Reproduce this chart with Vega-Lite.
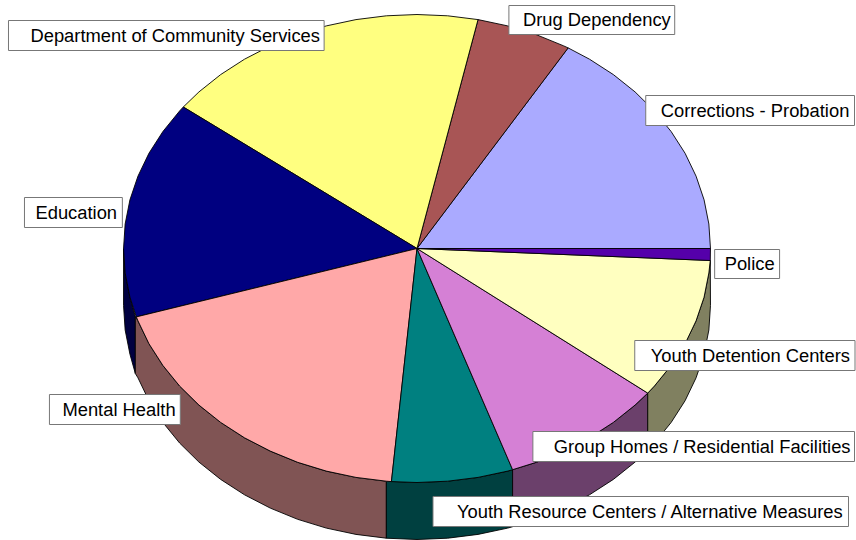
{
  "$schema": "https://vega.github.io/schema/vega-lite/v6.json",
  "width": 856,
  "height": 540,
  "padding": 0,
  "autosize": {"type": "fit", "contains": "padding"},
  "background": "#ffffff",
  "config": {"view": {"stroke": null}},
  "datasets": {
    "rim": [
      {"slice":"Education","x":-293.8,"y":0},{"slice":"Education","x":-292.2,"y":-24.5},{"slice":"Education","x":-287.4,"y":-48.7},{"slice":"Education","x":-282,"y":-68},{"slice":"Education","x":-282,"y":-125},{"slice":"Education","x":-287.4,"y":-105.7},{"slice":"Education","x":-292.2,"y":-81.5},{"slice":"Education","x":-293.8,"y":-57},
      {"slice":"Mental Health","x":-282,"y":-68},{"slice":"Mental Health","x":-279.4,"y":-72.3},{"slice":"Mental Health","x":-268.4,"y":-95.2},{"slice":"Mental Health","x":-254.4,"y":-117},{"slice":"Mental Health","x":-237.7,"y":-137.5},{"slice":"Mental Health","x":-218.3,"y":-156.6},{"slice":"Mental Health","x":-196.6,"y":-173.9},{"slice":"Mental Health","x":-172.7,"y":-189.3},{"slice":"Mental Health","x":-146.9,"y":-202.6},{"slice":"Mental Health","x":-119.5,"y":-213.8},{"slice":"Mental Health","x":-90.8,"y":-222.6},{"slice":"Mental Health","x":-61.1,"y":-228.9},{"slice":"Mental Health","x":-30.7,"y":-232.7},{"slice":"Mental Health","x":-30.7,"y":-289.7},{"slice":"Mental Health","x":-61.1,"y":-285.9},{"slice":"Mental Health","x":-90.8,"y":-279.6},{"slice":"Mental Health","x":-119.5,"y":-270.8},{"slice":"Mental Health","x":-146.9,"y":-259.6},{"slice":"Mental Health","x":-172.7,"y":-246.3},{"slice":"Mental Health","x":-196.6,"y":-230.9},{"slice":"Mental Health","x":-218.3,"y":-213.6},{"slice":"Mental Health","x":-237.7,"y":-194.5},{"slice":"Mental Health","x":-254.4,"y":-174},{"slice":"Mental Health","x":-268.4,"y":-152.2},{"slice":"Mental Health","x":-279.4,"y":-129.3},{"slice":"Mental Health","x":-282,"y":-125},
      {"slice":"Youth Resource Centers","x":-30.7,"y":-232.7},{"slice":"Youth Resource Centers","x":0,"y":-234},{"slice":"Youth Resource Centers","x":30.7,"y":-232.7},{"slice":"Youth Resource Centers","x":61.1,"y":-228.9},{"slice":"Youth Resource Centers","x":90.8,"y":-222.6},{"slice":"Youth Resource Centers","x":95.7,"y":-221.2},{"slice":"Youth Resource Centers","x":95.7,"y":-278.2},{"slice":"Youth Resource Centers","x":90.8,"y":-279.6},{"slice":"Youth Resource Centers","x":61.1,"y":-285.9},{"slice":"Youth Resource Centers","x":30.7,"y":-289.7},{"slice":"Youth Resource Centers","x":0,"y":-291},{"slice":"Youth Resource Centers","x":-30.7,"y":-289.7},
      {"slice":"Group Homes","x":95.7,"y":-221.2},{"slice":"Group Homes","x":119.5,"y":-213.8},{"slice":"Group Homes","x":146.9,"y":-202.6},{"slice":"Group Homes","x":172.7,"y":-189.3},{"slice":"Group Homes","x":196.6,"y":-173.9},{"slice":"Group Homes","x":218.3,"y":-156.6},{"slice":"Group Homes","x":231,"y":-144.6},{"slice":"Group Homes","x":231,"y":-201.6},{"slice":"Group Homes","x":218.3,"y":-213.6},{"slice":"Group Homes","x":196.6,"y":-230.9},{"slice":"Group Homes","x":172.7,"y":-246.3},{"slice":"Group Homes","x":146.9,"y":-259.6},{"slice":"Group Homes","x":119.5,"y":-270.8},{"slice":"Group Homes","x":95.7,"y":-278.2},
      {"slice":"Youth Detention Centers","x":231,"y":-144.6},{"slice":"Youth Detention Centers","x":237.7,"y":-137.5},{"slice":"Youth Detention Centers","x":254.4,"y":-117},{"slice":"Youth Detention Centers","x":268.4,"y":-95.2},{"slice":"Youth Detention Centers","x":279.4,"y":-72.3},{"slice":"Youth Detention Centers","x":287.4,"y":-48.7},{"slice":"Youth Detention Centers","x":292.2,"y":-24.5},{"slice":"Youth Detention Centers","x":293.6,"y":-12},{"slice":"Youth Detention Centers","x":293.8,"y":-57},{"slice":"Youth Detention Centers","x":292.2,"y":-81.5},{"slice":"Youth Detention Centers","x":287.4,"y":-105.7},{"slice":"Youth Detention Centers","x":279.4,"y":-129.3},{"slice":"Youth Detention Centers","x":268.4,"y":-152.2},{"slice":"Youth Detention Centers","x":254.4,"y":-174},{"slice":"Youth Detention Centers","x":237.7,"y":-194.5},{"slice":"Youth Detention Centers","x":231,"y":-201.6}
    ],
    "face": [
      {"slice":"Corrections - Probation","x":0,"y":0},{"slice":"Corrections - Probation","x":293.8,"y":0},{"slice":"Corrections - Probation","x":292.2,"y":24.5},{"slice":"Corrections - Probation","x":287.4,"y":48.7},{"slice":"Corrections - Probation","x":279.4,"y":72.3},{"slice":"Corrections - Probation","x":268.4,"y":95.2},{"slice":"Corrections - Probation","x":254.4,"y":117},{"slice":"Corrections - Probation","x":237.7,"y":137.5},{"slice":"Corrections - Probation","x":218.3,"y":156.6},{"slice":"Corrections - Probation","x":196.6,"y":173.9},{"slice":"Corrections - Probation","x":172.7,"y":189.3},{"slice":"Corrections - Probation","x":151.3,"y":200.6},
      {"slice":"Drug Dependency","x":0,"y":0},{"slice":"Drug Dependency","x":151.3,"y":200.6},{"slice":"Drug Dependency","x":146.9,"y":202.6},{"slice":"Drug Dependency","x":119.5,"y":213.8},{"slice":"Drug Dependency","x":90.8,"y":222.6},{"slice":"Drug Dependency","x":61.1,"y":228.9},
      {"slice":"Department of Community Services","x":0,"y":0},{"slice":"Department of Community Services","x":61.1,"y":228.9},{"slice":"Department of Community Services","x":30.7,"y":232.7},{"slice":"Department of Community Services","x":0,"y":234},{"slice":"Department of Community Services","x":-30.7,"y":232.7},{"slice":"Department of Community Services","x":-61.1,"y":228.9},{"slice":"Department of Community Services","x":-90.8,"y":222.6},{"slice":"Department of Community Services","x":-119.5,"y":213.8},{"slice":"Department of Community Services","x":-146.9,"y":202.6},{"slice":"Department of Community Services","x":-172.7,"y":189.3},{"slice":"Department of Community Services","x":-196.6,"y":173.9},{"slice":"Department of Community Services","x":-218.3,"y":156.6},{"slice":"Department of Community Services","x":-234,"y":141.5},
      {"slice":"Education","x":0,"y":0},{"slice":"Education","x":-234,"y":141.5},{"slice":"Education","x":-237.7,"y":137.5},{"slice":"Education","x":-254.4,"y":117},{"slice":"Education","x":-268.4,"y":95.2},{"slice":"Education","x":-279.4,"y":72.3},{"slice":"Education","x":-287.4,"y":48.7},{"slice":"Education","x":-292.2,"y":24.5},{"slice":"Education","x":-293.8,"y":0},{"slice":"Education","x":-292.2,"y":-24.5},{"slice":"Education","x":-287.4,"y":-48.7},{"slice":"Education","x":-281,"y":-68.4},
      {"slice":"Mental Health","x":0,"y":0},{"slice":"Mental Health","x":-281,"y":-68.4},{"slice":"Mental Health","x":-279.4,"y":-72.3},{"slice":"Mental Health","x":-268.4,"y":-95.2},{"slice":"Mental Health","x":-254.4,"y":-117},{"slice":"Mental Health","x":-237.7,"y":-137.5},{"slice":"Mental Health","x":-218.3,"y":-156.6},{"slice":"Mental Health","x":-196.6,"y":-173.9},{"slice":"Mental Health","x":-172.7,"y":-189.3},{"slice":"Mental Health","x":-146.9,"y":-202.6},{"slice":"Mental Health","x":-119.5,"y":-213.8},{"slice":"Mental Health","x":-90.8,"y":-222.6},{"slice":"Mental Health","x":-61.1,"y":-228.9},{"slice":"Mental Health","x":-30.7,"y":-232.7},{"slice":"Mental Health","x":-25.6,"y":-233.1},
      {"slice":"Youth Resource Centers / Alternative Measures","x":0,"y":0},{"slice":"Youth Resource Centers / Alternative Measures","x":-25.6,"y":-233.1},{"slice":"Youth Resource Centers / Alternative Measures","x":0,"y":-234},{"slice":"Youth Resource Centers / Alternative Measures","x":30.7,"y":-232.7},{"slice":"Youth Resource Centers / Alternative Measures","x":61.1,"y":-228.9},{"slice":"Youth Resource Centers / Alternative Measures","x":90.8,"y":-222.6},{"slice":"Youth Resource Centers / Alternative Measures","x":95.7,"y":-221.2},
      {"slice":"Group Homes / Residential Facilities","x":0,"y":0},{"slice":"Group Homes / Residential Facilities","x":95.7,"y":-221.2},{"slice":"Group Homes / Residential Facilities","x":119.5,"y":-213.8},{"slice":"Group Homes / Residential Facilities","x":146.9,"y":-202.6},{"slice":"Group Homes / Residential Facilities","x":172.7,"y":-189.3},{"slice":"Group Homes / Residential Facilities","x":196.6,"y":-173.9},{"slice":"Group Homes / Residential Facilities","x":218.3,"y":-156.6},{"slice":"Group Homes / Residential Facilities","x":231,"y":-144.6},
      {"slice":"Youth Detention Centers","x":0,"y":0},{"slice":"Youth Detention Centers","x":231,"y":-144.6},{"slice":"Youth Detention Centers","x":237.7,"y":-137.5},{"slice":"Youth Detention Centers","x":254.4,"y":-117},{"slice":"Youth Detention Centers","x":268.4,"y":-95.2},{"slice":"Youth Detention Centers","x":279.4,"y":-72.3},{"slice":"Youth Detention Centers","x":287.4,"y":-48.7},{"slice":"Youth Detention Centers","x":292.2,"y":-24.5},{"slice":"Youth Detention Centers","x":293.6,"y":-12},
      {"slice":"Police","x":0,"y":0},{"slice":"Police","x":293.6,"y":-12},{"slice":"Police","x":293.8,"y":0}
    ],
    "labels": [
      {"label":"Department of Community Services","left":-409,"right":-93,"top":228,"bottom":198,"tx":-387,"ty":213},
      {"label":"Education","left":-393,"right":-295,"top":51,"bottom":21,"tx":-382,"ty":36},
      {"label":"Drug Dependency","left":92,"right":258,"top":243,"bottom":214,"tx":106,"ty":228.5},
      {"label":"Corrections - Probation","left":229,"right":438,"top":153,"bottom":123,"tx":244,"ty":138},
      {"label":"Police","left":298,"right":363,"top":-1,"bottom":-30,"tx":308,"ty":-15.5},
      {"label":"Youth Detention Centers","left":218,"right":438.5,"top":-92,"bottom":-122,"tx":234,"ty":-107},
      {"label":"Group Homes / Residential Facilities","left":116,"right":438,"top":-183,"bottom":-213,"tx":137,"ty":-198},
      {"label":"Youth Resource Centers / Alternative Measures","left":16,"right":432,"top":-248,"bottom":-278,"tx":40,"ty":-263},
      {"label":"Mental Health","left":-368,"right":-237,"top":-146,"bottom":-176,"tx":-355,"ty":-161}
    ]
  },
  "layer": [
    {
      "data": {"name": "rim"},
      "mark": {"type": "line", "interpolate": "linear-closed", "stroke": "#000000", "strokeWidth": 0.9, "strokeJoin": "round"},
      "encoding": {
        "x": {"field": "x", "type": "quantitative", "axis": null, "scale": {"domain": [-417.5, 438.5], "nice": false, "zero": false}},
        "y": {"field": "y", "type": "quantitative", "axis": null, "scale": {"domain": [-291.5, 248.5], "nice": false, "zero": false}},
        "order": {"value": null},
        "fill": {
          "field": "slice", "type": "nominal", "legend": null,
          "scale": {
            "domain": ["Education", "Mental Health", "Youth Resource Centers", "Group Homes", "Youth Detention Centers"],
            "range": ["#000040", "#805454", "#004040", "#6B406B", "#808060"]
          }
        }
      }
    },
    {
      "data": {"name": "face"},
      "mark": {"type": "line", "interpolate": "linear-closed", "stroke": "#000000", "strokeWidth": 0.9, "strokeJoin": "round"},
      "encoding": {
        "x": {"field": "x", "type": "quantitative", "axis": null},
        "y": {"field": "y", "type": "quantitative", "axis": null},
        "order": {"value": null},
        "fill": {
          "field": "slice", "type": "nominal", "legend": null,
          "scale": {
            "domain": ["Corrections - Probation", "Drug Dependency", "Department of Community Services", "Education", "Mental Health", "Youth Resource Centers / Alternative Measures", "Group Homes / Residential Facilities", "Youth Detention Centers", "Police"],
            "range": ["#AAAAFF", "#A85555", "#FFFF80", "#000080", "#FFA8A8", "#008080", "#D580D5", "#FFFFC0", "#5500AA"]
          }
        }
      }
    },
    {
      "data": {"name": "labels"},
      "mark": {"type": "rect", "fill": "#ffffff", "stroke": "#777777", "strokeWidth": 1},
      "encoding": {
        "x": {"field": "left", "type": "quantitative", "axis": null},
        "x2": {"field": "right"},
        "y": {"field": "top", "type": "quantitative", "axis": null},
        "y2": {"field": "bottom"}
      }
    },
    {
      "data": {"name": "labels"},
      "mark": {"type": "text", "align": "left", "baseline": "middle", "font": "Liberation Sans", "fontSize": 18.35, "fill": "#000000"},
      "encoding": {
        "x": {"field": "tx", "type": "quantitative", "axis": null},
        "y": {"field": "ty", "type": "quantitative", "axis": null},
        "text": {"field": "label"}
      }
    }
  ],
  "resolve": {"scale": {"fill": "independent"}}
}
